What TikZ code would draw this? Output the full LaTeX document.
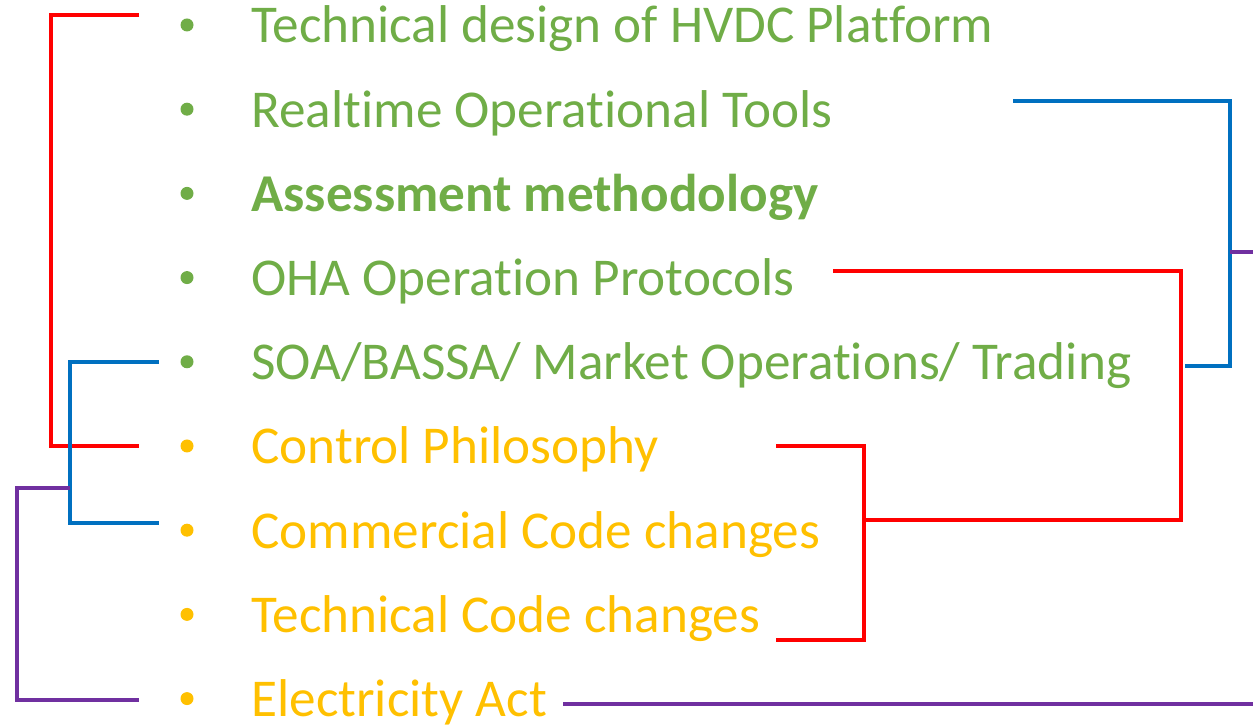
\documentclass[tikz,border=0pt]{standalone}
\usepackage{fontspec}
\setmainfont{Carlito}[RawFeature={-liga;-clig;-calt;-dlig}]
\definecolor{itemgreen}{HTML}{70AD47}
\definecolor{itemgold}{HTML}{FFC000}
\definecolor{linkred}{HTML}{FF0000}
\definecolor{linkblue}{HTML}{0070C0}
\definecolor{linkpurple}{HTML}{7030A0}
\begin{document}
\begin{tikzpicture}[x=0.5pt,y=-0.5pt,
    dot/.style={circle,fill,inner sep=0pt,minimum size=6.5pt},
    item/.style={anchor=base west,inner sep=0pt,font=\fontsize{26.6}{31}\selectfont},
    link/.style={line width=1.9pt}]
  \useasboundingbox (0,0) rectangle (1253,726);
  \foreach \i/\c/\t in {0/itemgreen/{Technical design of HVDC Platform},
      1/itemgreen/{Realtime Operational Tools},
      2/itemgreen/{\bfseries Assessment methodology},
      3/itemgreen/{OHA Operation Protocols},
      4/itemgreen/{SOA/BASSA/ Market Operations/ Trading},
      5/itemgold/{Control Philosophy},
      6/itemgold/{Commercial Code changes},
      7/itemgold/{Technical Code changes},
      8/itemgold/{Electricity Act}} {%
    \node[dot,text=\c,fill=\c] (b\i) at (187,25+84.2*\i) {};
    \node[item,text=\c] (t\i) at (251,43+84.2*\i) {\t};
  }
  % free ends of the brackets
  \coordinate (lr0) at (139,15);
  \coordinate (lr5) at (139,446);
  \coordinate (bl4) at (159,362);
  \coordinate (bl6) at (159,523);
  \coordinate (pj) at (70,488);
  \coordinate (pl8) at (139,700);
  \coordinate (br1) at (1013,101);
  \coordinate (br4) at (1185,366);
  \coordinate (pr) at (1253,252);
  \coordinate (rr3) at (833,271);
  \coordinate (rj) at (864,520);
  \coordinate (rr5) at (776,446);
  \coordinate (rr7) at (776,640);
  \coordinate (pr8) at (563,704);
  \coordinate (pe) at (1253,704);
  % left side
  \draw[link,linkred] (lr0) -- ++(-88,0) |- (lr5);
  \draw[link,linkblue] (bl4) -- ++(-89,0) |- (bl6);
  \draw[link,linkpurple] (pj) -- ++(-53,0) |- (pl8);
  % right side
  \draw[link,linkblue] (br1) -- ++(217,0) |- (br4);
  \draw[link,linkpurple] (1230,252) -- (pr);
  \draw[link,linkred] (rr3) -- ++(348,0) |- (rj);
  \draw[link,linkred] (rr5) -- ++(88,0) |- (rr7);
  \draw[link,linkpurple] (pr8) -- (pe);
\end{tikzpicture}
\end{document}
